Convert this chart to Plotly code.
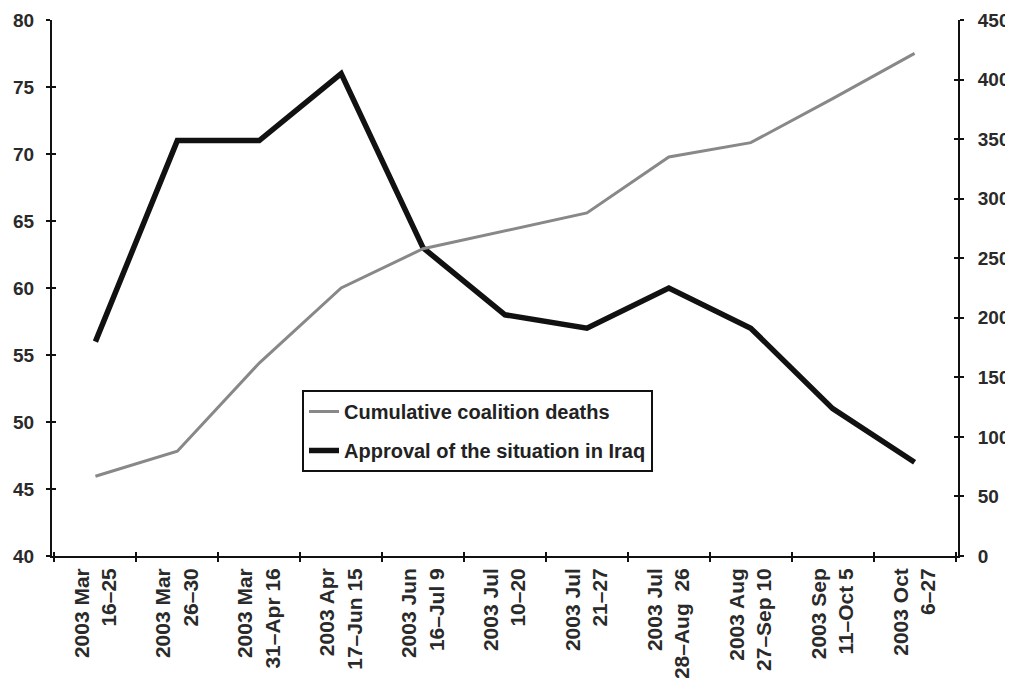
import plotly.graph_objects as go

categories = ["2003 Mar<br>16–25", "2003 Mar<br>26–30", "2003 Mar<br>31–Apr 16", "2003 Apr<br>17–Jun 15",
              "2003 Jun<br>16–Jul 9", "2003 Jul<br>10–20", "2003 Jul<br>21–27", "2003 Jul<br>28–Aug  26",
              "2003 Aug<br>27–Sep 10", "2003 Sep<br>11–Oct 5", "2003 Oct<br>6–27"]
approval = [56, 71, 71, 76, 63, 58, 57, 60, 57, 51, 47]
deaths = [67, 88, 162, 225, 258, 273, 288, 335, 347, 384, 422]
left_ticks = list(range(40, 81, 5))
right_ticks = list(range(0, 451, 50))

xs = list(range(len(categories)))
bounds = [i + 0.5 for i in range(-1, len(categories))]
FONT = "Liberation Sans, Arial, sans-serif"
font_ytick = dict(family=FONT, size=19, color="#2a2a2a", weight="bold")
font_xtick = dict(family=FONT, size=21, color="#2a2a2a", weight="bold")


def ax(**kw):
    base = dict(showgrid=False, zeroline=False, showline=True, linecolor="#111", linewidth=2,
                tickcolor="#111", tickwidth=2, automargin=False)
    base.update(kw)
    return base


fig = go.Figure()
fig.add_trace(go.Scatter(x=xs, y=deaths, name="Cumulative coalition deaths", mode="lines",
                         line=dict(color="#888888", width=3), yaxis="y2", legendgroup="a"))
fig.add_trace(go.Scatter(x=xs, y=approval, name="Approval of the situation in Iraq", mode="lines",
                         line=dict(color="#111111", width=5.5), yaxis="y", legendgroup="b"))

XR = [-0.53, 10.53]
# page has an 8px body margin: figure is sized/offset to compensate
fig.update_layout(
    width=1005, height=670,
    margin=dict(l=44, r=55, t=12, b=122),
    paper_bgcolor="white", plot_bgcolor="white",
    xaxis=ax(range=XR, tickmode="array", tickvals=bounds, ticktext=[""] * len(bounds),
             ticks="outside", ticklen=4),
    xaxis2=ax(overlaying="x", matches="x", range=XR, tickmode="array",
              tickvals=xs, ticktext=categories, ticks="", tickangle=-90, tickfont=font_xtick,
              side="bottom", anchor="y", showline=False, ticklabelstandoff=7),
    xaxis3=ax(overlaying="x", matches="x", range=XR, tickmode="array",
              tickvals=bounds, showticklabels=False, ticks="inside", ticklen=4, side="bottom", anchor="y"),
    yaxis=ax(range=[40, 80], tickmode="array", tickvals=left_ticks, ticks="outside",
             ticklen=4, tickfont=font_ytick, side="left", ticklabelstandoff=8),
    yaxis2=ax(range=[0, 450], tickmode="array", tickvals=right_ticks, ticks="outside",
              ticklen=4, tickfont=font_ytick, overlaying="y", side="right", anchor="x",
              ticklabelstandoff=10),
    yaxis3=ax(range=[40, 80], tickmode="array", tickvals=left_ticks, ticks="inside",
              ticklen=4, showticklabels=False, overlaying="y", side="left", anchor="x"),
    yaxis4=ax(range=[0, 450], tickmode="array", tickvals=right_ticks, ticks="inside",
              ticklen=4, showticklabels=False, overlaying="y", side="right", anchor="x"),
    showlegend=True,
    legend=dict(x=(302 - 52) / 906, y=(556 - 390) / 536, xanchor="left", yanchor="top",
                bordercolor="#111", borderwidth=2, bgcolor="white",
                font=dict(family=FONT, size=20, color="#222", weight="bold"),
                tracegroupgap=10, itemwidth=30),
)
# dummy traces to activate overlay axes
fig.add_trace(go.Scatter(x=[None], y=[None], xaxis="x2", showlegend=False, hoverinfo="skip"))
fig.add_trace(go.Scatter(x=[None], y=[None], xaxis="x3", yaxis="y3", showlegend=False, hoverinfo="skip"))
fig.add_trace(go.Scatter(x=[None], y=[None], yaxis="y4", showlegend=False, hoverinfo="skip"))

fig.write_html("out.html")
